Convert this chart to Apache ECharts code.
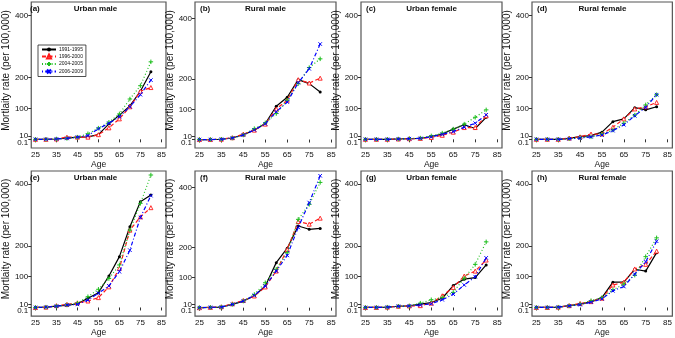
<!DOCTYPE html>
<html>
<head>
<meta charset="utf-8">
<script src="https://cdn.jsdelivr.net/npm/echarts@6/dist/echarts.min.js"></script>
<style>
  html, body { margin: 0; padding: 0; background: #fff; }
  #chart { width: 675px; height: 338px; }
</style>
</head>
<body>
<div id="chart"></div>
<script>
// ages on the x axis
const ages = [25, 30, 35, 40, 45, 50, 55, 60, 65, 70, 75, 80];
const periods = ["1991-1995", "1996-2000", "2004-2005", "2006-2009"];
const panelTags = ["(a)", "(b)", "(c)", "(d)", "(e)", "(f)", "(g)", "(h)"];
const panelNames = ["Urban male", "Rural male", "Urban female", "Rural female",
  "Urban male", "Rural male", "Urban female", "Rural female"];
const xTicks = [25, 35, 45, 55, 65, 75, 85];
const yTicks = [10, 100, 200, 400];
const yLowTicks = [0.1];

// mortality per 100,000, one row per period (1991-1995, 1996-2000, 2004-2005, 2006-2009)
const panelA = [
  [0, 0, 1, 4, 7, 8, 15, 50, 78, 108, 155, 218],
  [0, 0, 1, 7, 7, 7, 15, 37, 66, 105, 155, 167],
  [0, 0, 1, 3, 7, 18, 36, 55, 82, 130, 173, 250],
  [0, 0, 1, 3, 7, 12, 34, 52, 73, 105, 144, 191]
];
const panelB = [
  [0, 0, 1, 5, 16, 31, 53, 110, 140, 198, 185, 157],
  [0, 0, 1, 6, 18, 31, 51, 101, 130, 198, 187, 203],
  [0, 0, 1, 5, 15, 36, 55, 86, 130, 185, 238, 267],
  [0, 0, 1, 5, 15, 32, 52, 92, 124, 188, 234, 316]
];
const panelC = [
  [0, 0, 0, 1, 2, 3, 9, 17, 33, 47, 35, 71],
  [0, 0, 0, 1, 2, 3, 6, 13, 23, 38, 38, 76],
  [0, 0, 0, 1, 2, 4, 11, 20, 33, 49, 71, 95],
  [0, 0, 0, 1, 2, 3, 8, 16, 25, 39, 52, 79]
];
const panelD = [
  [0, 0, 0, 3, 9, 12, 23, 57, 66, 102, 95, 105],
  [0, 0, 0, 4, 8, 17, 17, 39, 66, 98, 105, 119],
  [0, 0, 0, 2, 5, 8, 17, 30, 52, 78, 111, 144],
  [0, 0, 0, 2, 4, 8, 14, 28, 47, 76, 103, 144]
];
const panelE = [
  [0, 0, 5, 7, 12, 30, 48, 102, 165, 262, 343, 365],
  [0, 1, 6, 10, 15, 21, 32, 67, 127, 251, 294, 324],
  [0, 1, 4, 8, 14, 35, 59, 94, 138, 251, 338, 430],
  [0, 1, 4, 8, 10, 24, 46, 70, 116, 186, 292, 363]
];
const panelF = [
  [0, 1, 2, 11, 22, 39, 72, 150, 198, 272, 261, 264],
  [0, 1, 3, 13, 24, 39, 69, 122, 194, 287, 278, 298],
  [0, 1, 2, 11, 22, 44, 83, 128, 183, 294, 344, 417],
  [0, 1, 2, 11, 22, 41, 72, 122, 174, 267, 350, 439]
];
const panelG = [
  [0, 0, 1, 4, 5, 11, 16, 30, 71, 92, 97, 138],
  [0, 0, 1, 4, 5, 6, 14, 38, 65, 102, 118, 154],
  [0, 0, 1, 4, 5, 14, 25, 32, 49, 95, 140, 213],
  [0, 0, 1, 4, 5, 8, 12, 25, 43, 73, 100, 161]
];
const panelH = [
  [0, 0, 1, 6, 11, 18, 32, 82, 82, 124, 118, 178],
  [0, 0, 1, 6, 13, 19, 30, 73, 82, 125, 140, 183],
  [0, 0, 1, 5, 11, 22, 32, 57, 76, 105, 165, 226],
  [0, 0, 1, 5, 9, 17, 28, 54, 68, 108, 148, 215]
];
const panels = [panelA, panelB, panelC, panelD, panelE, panelF, panelG, panelH];

// layout
const colLeft = [25, 195, 361, 532];
const colW = 141;
const rowTop = [2, 171];
const rowH = 146;
const yMin = -28;
const yMax = [443, 455, 443, 443, 443, 455, 443, 443];

const font = "'Liberation Sans', Arial, sans-serif";
const tickSize = 8;

const styles = [
  { color: "#000000", type: "solid", symbol: "circle", size: 3, fill: "#000000", bw: 0 },
  { color: "#ff1a1a", type: [4, 2.5], symbol: "triangle", size: 4, fill: "#ffffff", bw: 0.9 },
  { color: "#1fbf1f", type: [1, 2.2], symbol: "path://M0,5L10,5M5,0L5,10", size: 4.5, fill: "#1fbf1f", bw: 1 },
  { color: "#0000ff", type: [1, 2.2, 4, 2.2], symbol: "path://M0,0L10,10M10,0L0,10", size: 3.5, fill: "#0000ff", bw: 1 }
];

var echart = echarts.init(document.getElementById("chart"));

const grids = [], xAxes = [], yAxes = [], series = [], graphics = [];

panels.forEach((panel, i) => {
  const c = i % 4, r = Math.floor(i / 4);
  const left = colLeft[c], top = rowTop[r];
  grids.push({
    left: left, top: top, width: colW, height: rowH,
    show: true, borderColor: "#555", borderWidth: 1.2, backgroundColor: "transparent"
  });
  xAxes.push({
    gridIndex: i, type: "value", min: 23, max: 87.2,
    name: "Age", nameLocation: "middle", nameGap: 11,
    nameTextStyle: { fontFamily: font, fontSize: 8.5, color: "#111" },
    axisLine: { show: false },
    axisTick: { show: true, length: 3, customValues: xTicks, lineStyle: { color: "#333" } },
    axisLabel: { customValues: xTicks, margin: 3, fontFamily: font, fontSize: tickSize, color: "#111",
      showMinLabel: true, showMaxLabel: true, hideOverlap: false },
    splitLine: { show: false }
  });
  // main y axis
  yAxes.push({
    gridIndex: i, type: "value", position: "left", offset: 0, min: yMin, max: yMax[i],
    name: "Mortlaity rate (per 100,000)", nameLocation: "middle", nameGap: 14,
    nameTextStyle: { fontFamily: font, fontSize: 10, color: "#111", padding: [0, 0, 0, 9] },
    axisLine: { show: false },
    axisTick: { show: true, length: 3, customValues: yTicks, lineStyle: { color: "#333" } },
    axisLabel: { customValues: yTicks, margin: 3, fontFamily: font, fontSize: tickSize, color: "#111",
      showMinLabel: true, showMaxLabel: true, hideOverlap: false },
    splitLine: { show: false }
  });
  // second left axis only for the crowded 0.1 label
  yAxes.push({
    gridIndex: i, type: "value", position: "left", offset: 0, min: yMin, max: yMax[i],
    axisLine: { show: false },
    axisTick: { show: true, length: 3, customValues: yLowTicks, lineStyle: { color: "#333" } },
    axisLabel: {
      customValues: yLowTicks, margin: 3, color: "#111", showMinLabel: true,
      formatter: "{lo|{value}}",
      rich: { lo: { padding: [7, 0, 0, 0], fontFamily: font, fontSize: tickSize, color: "#111" } }
    },
    splitLine: { show: false }
  });
  panel.forEach((vals, k) => {
    const s = styles[k];
    series.push({
      name: periods[k], type: "line",
      xAxisIndex: i, yAxisIndex: i * 2,
      data: ages.map((a, j) => [a, vals[j]]),
      symbol: s.symbol, symbolSize: s.size, showSymbol: true,
      lineStyle: { color: s.color, width: 1.2, type: s.type },
      itemStyle: { color: s.fill, borderColor: s.color, borderWidth: s.bw },
      z: 2 + k
    });
  });
  graphics.push({
    type: "text", x: left + 5, y: top + 7,
    style: { text: panelTags[i], fill: "#111", font: "bold 8px " + font, align: "left", verticalAlign: "middle" }
  });
  graphics.push({
    type: "text", x: left + colW / 2, y: top + 7,
    style: { text: panelNames[i], fill: "#111", font: "bold 8px " + font, align: "center", verticalAlign: "middle" }
  });
});

const option = {
  animation: false,
  backgroundColor: "#fff",
  grid: grids,
  xAxis: xAxes,
  yAxis: yAxes,
  series: series,
  graphic: graphics,
  legend: {
    data: periods,
    orient: "vertical",
    left: 38, top: 45,
    padding: [2, 3],
    itemGap: 1.5,
    itemWidth: 14, itemHeight: 5,
    borderColor: "#222", borderWidth: 0.8,
    textStyle: { fontFamily: font, fontSize: 5, color: "#111", padding: [0, 0, 0, -2] }
  }
};
echart.setOption(option);
</script>
</body>
</html>
